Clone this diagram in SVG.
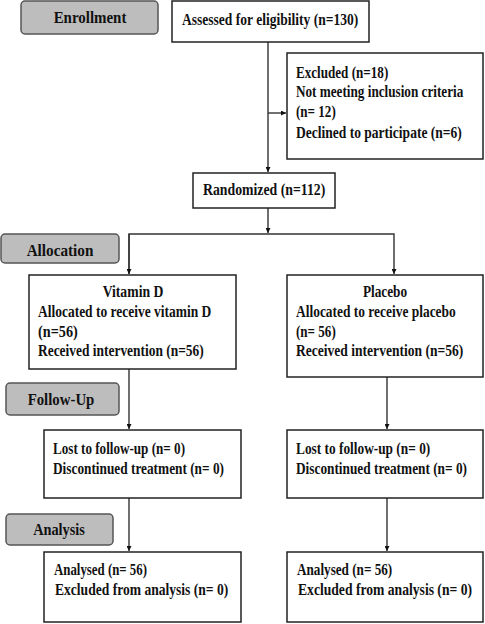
<svg xmlns="http://www.w3.org/2000/svg" width="485" height="624" viewBox="0 0 485 624">
<defs>
<style>
.box{fill:#fff;stroke:#222;stroke-width:1.5}
.stage{fill:#bdbdbd;stroke:#555;stroke-width:1.5}
.t{font-family:"Liberation Serif","Times New Roman",serif;font-weight:bold;font-size:17px;fill:#111}
.c{text-anchor:middle}
.ln{fill:none;stroke:#333;stroke-width:1.4}
</style>
<marker id="ah" viewBox="0 0 10 10" refX="10" refY="5" markerWidth="5" markerHeight="5" markerUnits="userSpaceOnUse" orient="auto">
<path d="M0,0 L10,5 L0,10 Z" fill="#111"/>
</marker>
</defs>
<rect width="485" height="624" fill="#fff"/>

<g id="connectors">
<path class="ln" d="M268,42 V172" marker-end="url(#ah)"/>
<path class="ln" d="M268,113 H286" marker-end="url(#ah)"/>
<path class="ln" d="M268,208 V233" marker-end="url(#ah)"/>
<path class="ln" d="M129,274 V234 H394 V274" marker-end="url(#ah)"/>
<path class="ln" d="M129,234 V274" marker-end="url(#ah)"/>
<path class="ln" d="M129,369 V429" marker-end="url(#ah)"/>
<path class="ln" d="M387,377 V429" marker-end="url(#ah)"/>
<path class="ln" d="M129,498 V551" marker-end="url(#ah)"/>
<path class="ln" d="M387,498 V551" marker-end="url(#ah)"/>
</g>

<g id="enrollment">
<rect class="stage" x="21" y="1" width="137" height="33" rx="4"/>
<text class="t c" transform="translate(90,23) scale(0.75,1)" textLength="97" lengthAdjust="spacingAndGlyphs">Enrollment</text>
</g>
<g id="assessed">
<rect class="box" x="172" y="1" width="197" height="41"/>
<text class="t" transform="translate(182,25) scale(0.75,1)" textLength="235" lengthAdjust="spacingAndGlyphs">Assessed for eligibility (n=130)</text>
</g>
<g id="excluded">
<rect class="box" x="287" y="53" width="196" height="106"/>
<text class="t" transform="translate(296,78) scale(0.75,1)" textLength="123" lengthAdjust="spacingAndGlyphs">Excluded (n=18)</text>
<text class="t" transform="translate(296,97) scale(0.75,1)" textLength="223" lengthAdjust="spacingAndGlyphs">Not meeting inclusion criteria</text>
<text class="t" transform="translate(296,117) scale(0.75,1)" textLength="53" lengthAdjust="spacingAndGlyphs">(n= 12)</text>
<text class="t" transform="translate(296,138) scale(0.75,1)" textLength="221" lengthAdjust="spacingAndGlyphs">Declined to participate (n=6)</text>
</g>
<g id="randomized">
<rect class="box" x="193" y="173" width="142" height="35"/>
<text class="t" transform="translate(203,195) scale(0.75,1)" textLength="163" lengthAdjust="spacingAndGlyphs">Randomized (n=112)</text>
</g>
<g id="allocation">
<rect class="stage" x="1" y="234" width="118" height="29" rx="4"/>
<text class="t c" transform="translate(60,256) scale(0.75,1)" textLength="89" lengthAdjust="spacingAndGlyphs">Allocation</text>
</g>
<g id="vitamin-d">
<rect class="box" x="29" y="275" width="207" height="94"/>
<text class="t c" transform="translate(133,297) scale(0.75,1)" textLength="81" lengthAdjust="spacingAndGlyphs">Vitamin D</text>
<text class="t" transform="translate(38,317) scale(0.75,1)" textLength="231" lengthAdjust="spacingAndGlyphs">Allocated to receive  vitamin D</text>
<text class="t" transform="translate(38,337) scale(0.75,1)" textLength="53" lengthAdjust="spacingAndGlyphs">(n=56)</text>
<text class="t" transform="translate(38,356) scale(0.75,1)" textLength="221" lengthAdjust="spacingAndGlyphs">Received intervention (n=56)</text>
</g>
<g id="placebo">
<rect class="box" x="287" y="275" width="196" height="102"/>
<text class="t c" transform="translate(385,297) scale(0.75,1)" textLength="59" lengthAdjust="spacingAndGlyphs">Placebo</text>
<text class="t" transform="translate(296,317) scale(0.75,1)" textLength="213" lengthAdjust="spacingAndGlyphs">Allocated to receive  placebo</text>
<text class="t" transform="translate(296,337) scale(0.75,1)" textLength="53" lengthAdjust="spacingAndGlyphs">(n= 56)</text>
<text class="t" transform="translate(296,356) scale(0.75,1)" textLength="223" lengthAdjust="spacingAndGlyphs">Received intervention (n=56)</text>
</g>
<g id="follow-up">
<rect class="stage" x="6" y="383" width="113" height="32" rx="4"/>
<text class="t c" transform="translate(61,405) scale(0.75,1)" textLength="89" lengthAdjust="spacingAndGlyphs">Follow-Up</text>
</g>
<g id="lost-left">
<rect class="box" x="44" y="430" width="197" height="68"/>
<text class="t" transform="translate(53,454) scale(0.75,1)" textLength="176" lengthAdjust="spacingAndGlyphs">Lost to follow-up (n= 0)</text>
<text class="t" transform="translate(53,474) scale(0.75,1)" textLength="228" lengthAdjust="spacingAndGlyphs">Discontinued treatment (n= 0)</text>
</g>
<g id="lost-right">
<rect class="box" x="287" y="430" width="196" height="68"/>
<text class="t" transform="translate(296,454) scale(0.75,1)" textLength="179" lengthAdjust="spacingAndGlyphs">Lost to follow-up (n= 0)</text>
<text class="t" transform="translate(296,474) scale(0.75,1)" textLength="228" lengthAdjust="spacingAndGlyphs">Discontinued treatment (n= 0)</text>
</g>
<g id="analysis">
<rect class="stage" x="6" y="514" width="107" height="31" rx="4"/>
<text class="t c" transform="translate(59,535) scale(0.75,1)" textLength="69" lengthAdjust="spacingAndGlyphs">Analysis</text>
</g>
<g id="analysed-left">
<rect class="box" x="44" y="552" width="197" height="70"/>
<text class="t" transform="translate(54,575) scale(0.75,1)" textLength="124" lengthAdjust="spacingAndGlyphs">Analysed (n= 56)</text>
<text class="t" transform="translate(55,595) scale(0.75,1)" textLength="231" lengthAdjust="spacingAndGlyphs">Excluded from analysis (n= 0)</text>
</g>
<g id="analysed-right">
<rect class="box" x="287" y="552" width="196" height="70"/>
<text class="t" transform="translate(297,575) scale(0.75,1)" textLength="127" lengthAdjust="spacingAndGlyphs">Analysed (n= 56)</text>
<text class="t" transform="translate(298,595) scale(0.75,1)" textLength="232" lengthAdjust="spacingAndGlyphs">Excluded from analysis (n= 0)</text>
</g>
</svg>
